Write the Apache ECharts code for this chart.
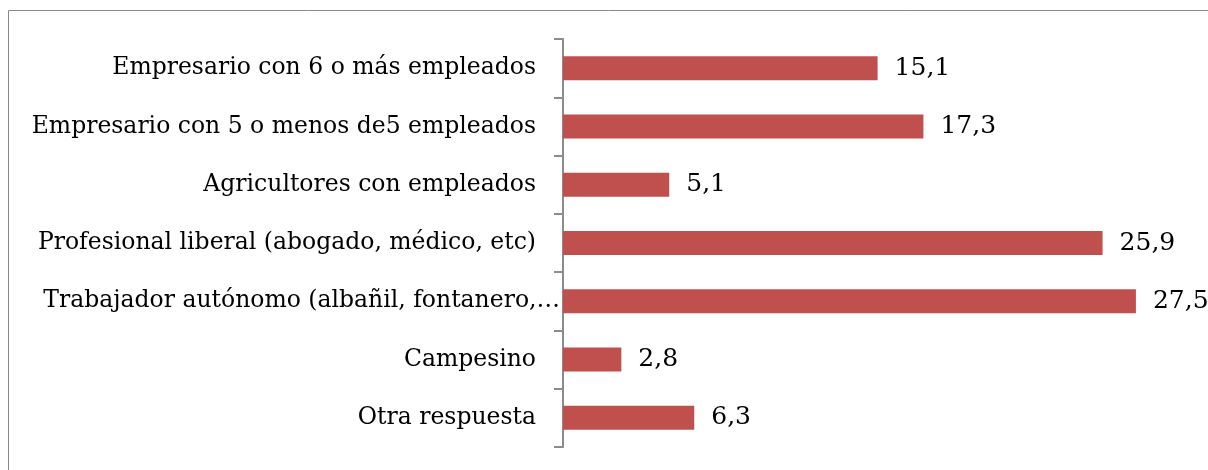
<!DOCTYPE html>
<html>
<head>
<meta charset="utf-8">
<script src="https://cdn.jsdelivr.net/npm/echarts@6/dist/echarts.min.js"></script>
<style>
  html, body { margin: 0; padding: 0; background: #fff; overflow: hidden; }
  #chart { width: 1208px; height: 470px; }
</style>
</head>
<body>
<div id="chart"></div>
<script>
const categories = [
  'Empresario con 6 o más empleados',
  'Empresario con 5 o menos de5 empleados',
  'Agricultores con empleados',
  'Profesional liberal (abogado, médico, etc)',
  'Trabajador autónomo (albañil, fontanero,…',
  'Campesino',
  'Otra respuesta'
];
const values = [15.1, 17.3, 5.1, 25.9, 27.5, 2.8, 6.3];

const serif = '"DejaVu Serif", "Liberation Serif", serif';

const chart = echarts.init(document.getElementById('chart'));

chart.setOption({
  animation: false,
  graphic: [
    {
      type: 'rect',
      shape: { x: 8.5, y: 10.5, width: 1400, height: 800 },
      style: { fill: 'none', stroke: '#898989', lineWidth: 1 },
      silent: true
    }
  ],
  grid: { left: 563, right: 20, top: 39, bottom: 23, containLabel: false },
  xAxis: {
    type: 'value',
    min: 0,
    max: 30,
    show: false
  },
  yAxis: {
    type: 'category',
    inverse: true,
    data: categories,
    axisLine: { show: true, lineStyle: { color: '#8c8c8c', width: 2 } },
    axisTick: { show: true, length: 9, lineStyle: { color: '#8c8c8c', width: 2 } },
    axisLabel: {
      margin: 3,
      fontFamily: serif,
      fontSize: 23.5,
      color: '#000',
      formatter: function (v) {
        return v.endsWith('…') ? '{l|' + v + '}' : '{n|' + v + '}';
      },
      rich: {
        n: { fontFamily: serif, fontSize: 23.5, color: '#000', padding: [0, 24, 0, 0] },
        l: { fontFamily: serif, fontSize: 23.5, color: '#000' }
      }
    }
  },
  series: [
    {
      type: 'bar',
      data: values,
      barWidth: 24,
      itemStyle: { color: '#C0504D' },
      label: {
        show: true,
        position: 'right',
        distance: 17,
        fontFamily: serif,
        fontSize: 25,
        color: '#000',
        formatter: function (p) { return String(p.value).replace('.', ','); }
      }
    }
  ]
});
</script>
</body>
</html>
